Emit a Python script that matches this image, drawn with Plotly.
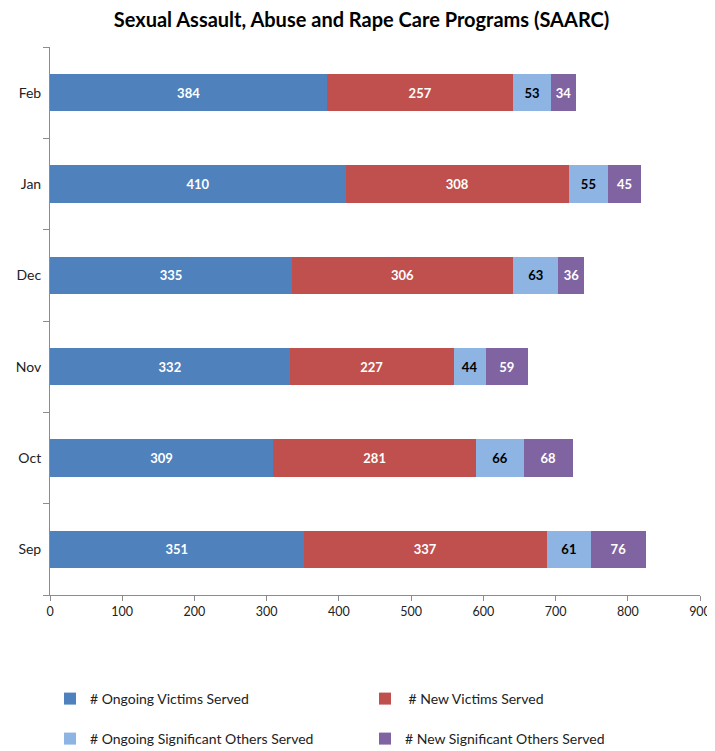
import plotly.graph_objects as go

months = ["Sep", "Oct", "Nov", "Dec", "Jan", "Feb"]
ongoing_victims = [351, 309, 332, 335, 410, 384]
new_victims = [337, 281, 227, 306, 308, 257]
ongoing_sig = [61, 66, 44, 63, 55, 53]
new_sig = [76, 68, 59, 36, 45, 34]

series = [
    ("# Ongoing Victims Served", ongoing_victims, "#4F81BD", "white", "legend"),
    (" # New Victims Served", new_victims, "#C0504D", "white", "legend"),
    ("# Ongoing Significant Others Served", ongoing_sig, "#8DB4E2", "black", "legend2"),
    ("# New Significant Others Served", new_sig, "#8064A2", "white", "legend2"),
]

FONT = "Lato"
W, H = 707, 743  # page body has an 8px margin

fig = go.Figure()
for name, vals, color, tcolor, lg in series:
    fig.add_trace(go.Bar(
        y=months, x=vals, name=name, orientation="h",
        marker=dict(color=color, line=dict(width=0)),
        text=vals, texttemplate="%{x}", textposition="inside",
        insidetextanchor="middle", textangle=0,
        textfont=dict(family=FONT, size=13, color=tcolor, weight="bold"),
        legend=lg,
    ))

leg_common = dict(
    orientation="h", xref="container", yref="container",
    xanchor="left", yanchor="middle",
    font=dict(family=FONT, size=14, color="#222"),
    entrywidth=270, itemwidth=30, traceorder="normal",
    bgcolor="rgba(0,0,0,0)",
)

fig.update_layout(
    width=W, height=H,
    barmode="stack", bargap=0.59,
    paper_bgcolor="white", plot_bgcolor="white",
    margin=dict(l=42, r=15, t=39, b=156, autoexpand=False),
    title=dict(text="<b>Sexual Assault, Abuse and Rape Care Programs (SAARC)</b>",
               x=0.5, xref="container", y=1 - 12 / H, yref="container",
               xanchor="center", yanchor="middle",
               font=dict(family=FONT, size=20, color="black")),
    xaxis=dict(range=[0, 900], dtick=100, tick0=0, showgrid=False, automargin=False,
               showline=True, linecolor="#8c8c8c", linewidth=1,
               ticks="outside", ticklen=5, tickcolor="#8c8c8c",
               tickfont=dict(family=FONT, size=12.5, color="#222"), zeroline=False),
    yaxis=dict(showgrid=False, showline=True, linecolor="#8c8c8c", linewidth=1, automargin=False,
               ticks="outside", ticklen=6, tickcolor="#8c8c8c", tickson="boundaries",
               ticklabelstandoff=5,
               tickfont=dict(family=FONT, size=14, color="#222")),
    uniformtext=dict(minsize=13, mode="show"),
    legend=dict(x=42 / W, y=1 - 691 / H, **leg_common),
    legend2=dict(x=42 / W, y=1 - 731 / H, **leg_common),
    showlegend=True,
)

fig.write_html("out.html")
